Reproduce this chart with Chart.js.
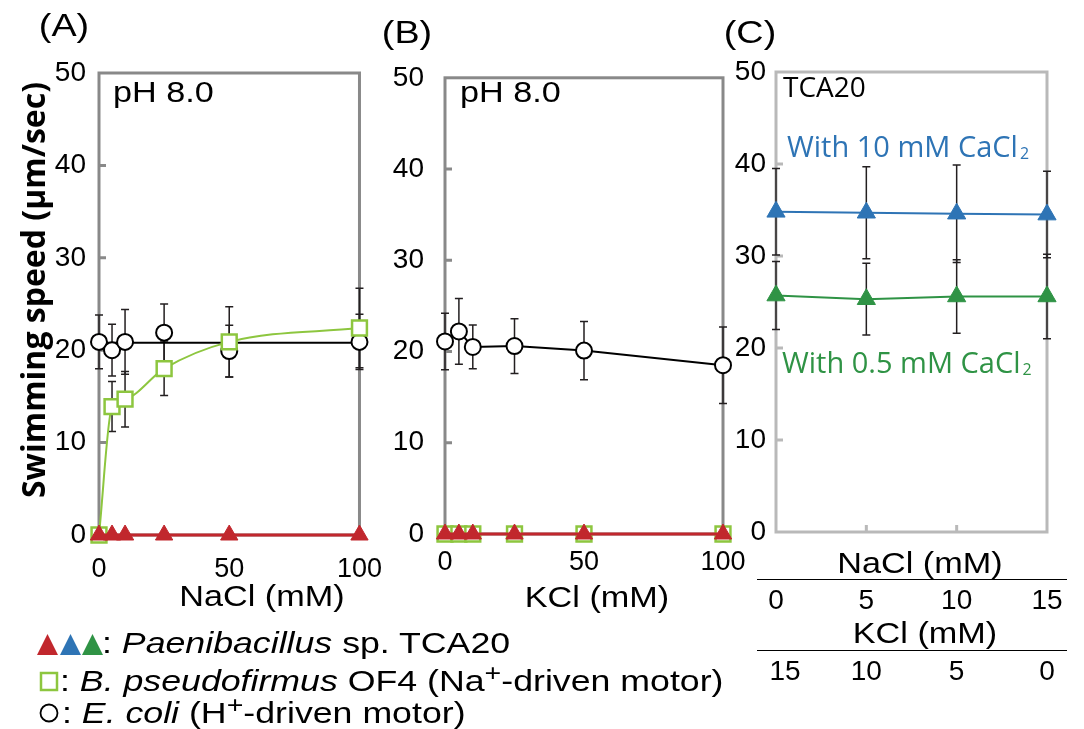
<!DOCTYPE html>
<html>
<head>
<meta charset="utf-8">
<script src="https://cdn.jsdelivr.net/npm/chart.js@4.4.1/dist/chart.umd.min.js"></script>
<style>
  body { margin: 0; width: 1084px; height: 729px; position: relative; overflow: hidden; background: #fff; }
  canvas { position: absolute; }
  .txt { position: absolute; white-space: nowrap; line-height: 1; }
  .txt sup { font-size: 0.8em; line-height: 0; vertical-align: 0.42em; }
  .txt sub { font-size: 0.55em; line-height: 0; vertical-align: -0.12em; margin-left: 2px; }
  .rule { position: absolute; height: 0; border-top: 1.5px solid #000; }
  svg { position: absolute; overflow: visible; }
</style>
</head>
<body>
<canvas id="panelA" width="400" height="580" style="left:0px;top:40px"></canvas>
<canvas id="panelB" width="390" height="580" style="left:385px;top:40px"></canvas>
<canvas id="panelC" width="354" height="520" style="left:730px;top:40px"></canvas>

<svg style="left:0;top:0" width="1" height="1">
  <polygon points="37,655 58,655 47.5,634" fill="#c1272d"/>
  <polygon points="60,655 81,655 70.5,634" fill="#2e74b5"/>
  <polygon points="82,655 103,655 92.5,634" fill="#2f9345"/>
  <rect x="41" y="673" width="16" height="17" fill="#fff" stroke="#8dc63f" stroke-width="2.5"/>
  <circle cx="49" cy="713" r="8.5" fill="#fff" stroke="#000" stroke-width="1.8"/>
</svg>

<script>
const FONT = "'Liberation Sans', Arial, sans-serif";
const OPEN = "'Open Sans', 'Noto Sans', sans-serif";

// x values (mM)
const naclMM = [0, 5, 10, 25, 50, 100];
const kclMM = [0, 5, 10, 25, 50, 100];

// (A) NaCl series
const ecoliNa = [20.9, 20.0, 20.9, 21.9, 19.9, 20.9];
const ecoliNaErr = [2.9, 2.8, 3.5, 3.1, 2.8, 3.0];
const ecoliNaFitX = [0, 100];
const ecoliNaFit = [20.8, 20.8];
const of4Na = [0, 13.9, 14.7, 18.0, 20.9, 22.4];
const of4NaErr = [0, 2.7, 3.0, 2.9, 3.8, 4.3];
const tcaNa = [0, 0, 0, 0, 0, 0];

// (B) KCl series
const ecoliK = [21.1, 22.2, 20.5, 20.6, 20.1, 18.5];
const ecoliKErr = [3.1, 3.6, 2.4, 3.0, 3.2, 4.2];
const of4K = [0, 0, 0, 0, 0, 0];
const tcaK = [0, 0, 0, 0, 0, 0];

// (C) NaCl/KCl mixtures, TCA20
const mixNaCl = ['0', '5', '10', '15'];
const mixKCl = ['15', '10', '5', '0'];
const tcaCa10 = [34.8, 34.7, 34.6, 34.5];
const tcaCa10Err = [4.7, 5.0, 5.3, 4.7];
const tcaCa05 = [25.7, 25.3, 25.6, 25.6];
const tcaCa05Err = [3.7, 3.9, 4.0, 4.6];

const RED = '#c1272d', BLUE = '#2e74b5', GREEN = '#2f9345', LIME = '#8dc63f';

const pts = (xs, ys) => xs.map((x, i) => ({ x: x, y: ys[i] }));

// gray box round the plot area + short inner tick marks
const framePlugin = {
  id: 'frame',
  beforeDatasetsDraw(chart, args, opts) {
    const { ctx, chartArea: a, scales } = chart;
    ctx.save();
    ctx.strokeStyle = opts.color;
    ctx.lineWidth = opts.width;
    ctx.strokeRect(a.left, a.top, a.right - a.left, a.bottom - a.top);
    ctx.beginPath();
    scales.y.ticks.forEach(t => {
      if (t.value <= scales.y.min || t.value >= scales.y.max) return;
      const py = scales.y.getPixelForValue(t.value);
      ctx.moveTo(a.left, py);
      ctx.lineTo(a.left + opts.tick, py);
    });
    if (opts.xTicks) {
      scales.x.ticks.forEach((t, i) => {
        if (i === 0 || i === scales.x.ticks.length - 1) return;
        const px = scales.x.getPixelForTick(i);
        ctx.moveTo(px, a.bottom);
        ctx.lineTo(px, a.bottom - opts.tick);
      });
    }
    ctx.stroke();
    ctx.restore();
  }
};

const errorBarPlugin = {
  id: 'errorBars',
  beforeDatasetsDraw(chart) {
    const { ctx, scales: { y } } = chart;
    ctx.save();
    ctx.strokeStyle = '#231f20';
    ctx.lineWidth = 1.5;
    chart.data.datasets.forEach((ds, i) => {
      if (!ds.errors) return;
      const meta = chart.getDatasetMeta(i);
      meta.data.forEach((pt, j) => {
        const e = ds.errors[j];
        if (!e) return;
        const v = (ds.data[j] && ds.data[j].y !== undefined) ? ds.data[j].y : ds.data[j];
        const top = y.getPixelForValue(v + e);
        const bot = y.getPixelForValue(v - e);
        ctx.beginPath();
        ctx.moveTo(pt.x, top); ctx.lineTo(pt.x, bot);
        ctx.moveTo(pt.x - 4, top); ctx.lineTo(pt.x + 4, top);
        ctx.moveTo(pt.x - 4, bot); ctx.lineTo(pt.x + 4, bot);
        ctx.stroke();
      });
    });
    ctx.restore();
  }
};

function yAxis(pad, width) {
  return {
    min: 0, max: 50,
    ticks: { stepSize: 10, padding: pad, color: '#000', font: { family: FONT, size: 28 } },
    grid: { display: false, drawTicks: false },
    border: { display: false },
    afterFit(s) { s.width = width; }
  };
}

function xLinear(pad, height) {
  return {
    type: 'linear', min: 0, max: 100,
    ticks: { stepSize: 50, padding: pad, color: '#000', maxRotation: 0, font: { family: FONT, size: 27 } },
    grid: { display: false, drawTicks: false },
    border: { display: false },
    afterFit(s) { s.height = height; }
  };
}

function baseOptions(padding, scales, frame) {
  return {
    responsive: false,
    animation: false,
    layout: { padding: padding },
    scales: scales,
    plugins: { legend: { display: false }, tooltip: { enabled: false }, frame: frame }
  };
}

const tcaStyle = {
  borderColor: RED, borderWidth: 3, pointStyle: 'triangle', pointRadius: 10,
  pointBackgroundColor: RED, pointBorderColor: RED, pointBorderWidth: 1, order: 1, clip: false
};
const of4Style = {
  borderColor: LIME, borderWidth: 2, pointStyle: 'rect', pointRadius: 10.5,
  pointBackgroundColor: '#fff', pointBorderColor: LIME, pointBorderWidth: 2.5, order: 2, clip: false
};
const ecoliStyle = {
  borderColor: '#000', borderWidth: 2, pointStyle: 'circle', pointRadius: 8,
  pointBackgroundColor: '#fff', pointBorderColor: '#000', pointBorderWidth: 2, order: 3, clip: false
};

// (A)
const chartA = new Chart(document.getElementById('panelA'), {
  type: 'line',
  data: {
    datasets: [
      Object.assign({ data: pts(naclMM, tcaNa) }, tcaStyle),
      Object.assign({ data: pts(naclMM, of4Na), errors: of4NaErr, cubicInterpolationMode: 'monotone' }, of4Style),
      Object.assign({ data: pts(naclMM, ecoliNa), errors: ecoliNaErr, showLine: false }, ecoliStyle),
      { data: pts(ecoliNaFitX, ecoliNaFit), borderColor: '#000', borderWidth: 2, pointRadius: 0, order: 4, clip: false }
    ]
  },
  options: baseOptions({ left: 0, top: 33, right: 33, bottom: 0 },
    { x: xLinear(18, 85), y: yAxis(13, 99) },
    { color: '#898989', width: 3, tick: 7 }),
  plugins: [framePlugin, errorBarPlugin]
});

// (B)
const chartB = new Chart(document.getElementById('panelB'), {
  type: 'line',
  data: {
    datasets: [
      Object.assign({ data: pts(kclMM, tcaK) }, tcaStyle),
      Object.assign({ data: pts(kclMM, of4K) }, of4Style),
      Object.assign({ data: pts(kclMM, ecoliK), errors: ecoliKErr }, ecoliStyle)
    ]
  },
  options: baseOptions({ left: 0, top: 28, right: 52, bottom: 0 },
    { x: xLinear(12, 86), y: yAxis(21, 60) },
    { color: '#898989', width: 3, tick: 7 }),
  plugins: [framePlugin, errorBarPlugin]
});

// (C)
const chartC = new Chart(document.getElementById('panelC'), {
  type: 'line',
  data: {
    labels: mixNaCl,
    datasets: [
      { data: tcaCa10, errors: tcaCa10Err, borderColor: BLUE, borderWidth: 2, pointStyle: 'triangle',
        pointRadius: 10.5, pointBackgroundColor: BLUE, pointBorderColor: BLUE, pointBorderWidth: 1, clip: false },
      { data: tcaCa05, errors: tcaCa05Err, borderColor: GREEN, borderWidth: 2, pointStyle: 'triangle',
        pointRadius: 10.5, pointBackgroundColor: GREEN, pointBorderColor: GREEN, pointBorderWidth: 1, clip: false }
    ]
  },
  options: baseOptions({ left: 0, top: 32, right: 37, bottom: 0 },
    {
      x: {
        type: 'category', offset: false,
        ticks: { display: false },
        grid: { display: false, drawTicks: false },
        border: { display: false },
        afterFit(s) { s.height = 28; }
      },
      y: yAxis(10, 46)
    },
    { color: '#b9b9b9', width: 3, tick: 7, xTicks: true }),
  plugins: [framePlugin, errorBarPlugin]
});

// text helpers (baseline positioning)
function addText(html, x, base, o) {
  o = o || {};
  const size = o.size || 29;
  const fam = o.open ? OPEN : FONT;
  const k = o.open ? 0.888 : 0.8465;
  const sx = o.sx !== undefined ? o.sx : 1.18;
  const align = o.align || 'left';
  const el = document.createElement('div');
  el.className = 'txt';
  el.innerHTML = html;
  el.style.left = x + 'px';
  el.style.top = (base - size * k) + 'px';
  el.style.fontSize = size + 'px';
  el.style.fontFamily = fam;
  el.style.color = o.color || '#000';
  el.style.transformOrigin = align === 'left' ? 'left top' : (align === 'right' ? 'right top' : 'center top');
  el.style.transform = (align === 'center' ? 'translateX(-50%) ' : (align === 'right' ? 'translateX(-100%) ' : '')) + 'scaleX(' + sx + ')';
  document.body.appendChild(el);
  return el;
}

addText('(A)', 64, 36, { size: 32, align: 'center' });
addText('(B)', 407, 43, { size: 32, align: 'center' });
addText('(C)', 750, 43, { size: 32, align: 'center' });

addText('pH 8.0', 113, 103);
addText('pH 8.0', 460, 103);
addText('NaCl (mM)', 262, 607, { align: 'center' });
addText('KCl (mM)', 597, 608, { align: 'center' });

addText('TCA20', 783, 97, { open: true, size: 28, sx: 1 });
addText('With 10 mM CaCl<sub>2</sub>', 787, 157, { open: true, size: 29, sx: 1, color: BLUE });
addText('With 0.5 mM CaCl<sub>2</sub>', 782, 373, { open: true, size: 29, sx: 1, color: GREEN });

// y-axis title
const yTitle = document.createElement('div');
yTitle.className = 'txt';
yTitle.textContent = 'Swimming speed (\u00b5m/sec)';
yTitle.style.cssText += 'left:33px;top:290px;font-family:' + OPEN + ';font-weight:700;font-size:32px;transform:translate(-50%,-50%) rotate(-90deg);';
document.body.appendChild(yTitle);

// (C) composite x axis below the panel
const cLeft = 730;
const cx = chartC.scales.x;
addText('NaCl (mM)', 920, 574, { align: 'center' });
addText('KCl (mM)', 925, 644, { align: 'center' });
[579, 650].forEach(yy => {
  const r = document.createElement('div');
  r.className = 'rule';
  r.style.left = '757px'; r.style.top = yy + 'px'; r.style.width = '310px';
  document.body.appendChild(r);
});
mixNaCl.forEach((lab, i) => addText(lab, cLeft + cx.getPixelForValue(i), 610, { size: 28, sx: 1, align: 'center' }));
mixKCl.forEach((lab, i) => addText(lab, cLeft + cx.getPixelForValue(i) + (i === 0 ? 9 : 0), 681, { size: 28, sx: 1, align: 'center' }));

// legend text
addText(': <i>Paenibacillus</i> sp. TCA20', 102, 653, { size: 30, sx: 1.19 });
addText(': <i>B. pseudofirmus</i> OF4 (Na<sup>+</sup>-driven motor)', 60, 691, { size: 30, sx: 1.19 });
addText(': <i>E. coli</i> (H<sup>+</sup>-driven motor)', 62, 723, { size: 30, sx: 1.19 });
</script>
</body>
</html>
